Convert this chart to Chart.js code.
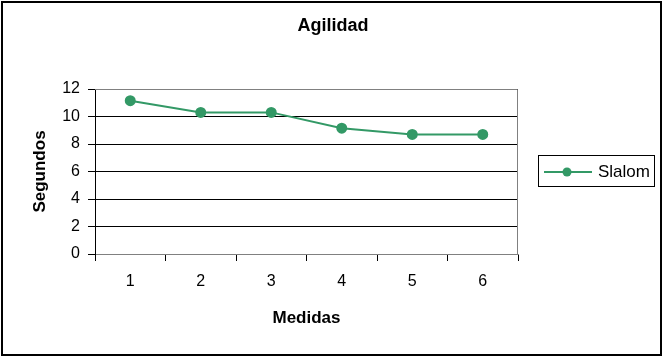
<!DOCTYPE html>
<html>
<head>
<meta charset="utf-8">
<script src="https://cdn.jsdelivr.net/npm/chart.js@4.4.1/dist/chart.umd.min.js"></script>
<style>
  html, body { margin: 0; padding: 0; background: #fff; }
  #wrap { width: 666px; height: 360px; }
</style>
</head>
<body>
<div id="wrap"><canvas id="chart" width="666" height="360"></canvas></div>
<script>
// data
const medidas = ['1', '2', '3', '4', '5', '6'];
const slalom = [11.15, 10.3, 10.3, 9.15, 8.7, 8.7];
const yTicks = [0, 2, 4, 6, 8, 10, 12];
const chartTitle = 'Agilidad';

const FONT = "'Liberation Sans', Arial, sans-serif";
const GREEN = '#339966';

// plot frame (grey top/right), title centred on the whole canvas, outer border, legend box
const framePlugin = {
    id: 'frame',
    beforeDatasetsDraw(chart) {
        const { ctx, chartArea: a } = chart;
        const t = Math.round(a.top) + 0.5;
        const r = Math.round(a.right) - 0.5;
        ctx.save();
        ctx.strokeStyle = '#808080';
        ctx.lineWidth = 1;
        ctx.beginPath();
        ctx.moveTo(a.left, t);
        ctx.lineTo(r, t);
        ctx.lineTo(r, a.bottom);
        ctx.stroke();
        ctx.restore();
    },
    afterDraw(chart) {
        const ctx = chart.ctx;
        ctx.save();
        // title
        ctx.fillStyle = '#000';
        ctx.font = 'bold 18px ' + FONT;
        ctx.textAlign = 'center';
        ctx.textBaseline = 'middle';
        ctx.fillText(chartTitle, 333, 26);

        // outer border
        ctx.strokeStyle = '#000';
        ctx.lineWidth = 2;
        ctx.strokeRect(2, 2, 659, 353);

        // legend
        const ds = chart.data.datasets[0];
        ctx.lineWidth = 1;
        ctx.strokeRect(538.5, 155.5, 116, 31);
        const ly = 172;
        ctx.strokeStyle = ds.borderColor;
        ctx.lineWidth = 2;
        ctx.beginPath();
        ctx.moveTo(544, ly);
        ctx.lineTo(592, ly);
        ctx.stroke();
        ctx.fillStyle = ds.pointBackgroundColor;
        ctx.beginPath();
        ctx.arc(567, ly, 4.5, 0, Math.PI * 2);
        ctx.fill();
        ctx.fillStyle = '#000';
        ctx.font = '17px ' + FONT;
        ctx.textAlign = 'left';
        ctx.fillText(ds.label, 598, ly);
        ctx.restore();
    }
};

new Chart(document.getElementById('chart'), {
    type: 'line',
    data: {
        labels: medidas,
        datasets: [{
            label: 'Slalom',
            data: slalom,
            borderColor: GREEN,
            backgroundColor: GREEN,
            pointBackgroundColor: GREEN,
            pointBorderColor: GREEN,
            borderWidth: 2,
            pointRadius: 4.5,
            tension: 0
        }]
    },
    options: {
        responsive: false,
        animation: false,
        layout: { padding: { left: 26, right: 148, top: 89, bottom: 27 } },
        plugins: {
            legend: { display: false },
            tooltip: { enabled: false },
            title: { display: false }
        },
        scales: {
            x: {
                offset: true,
                afterFit(scale) { scale.height = 79; },
                grid: {
                    offset: true,
                    drawOnChartArea: false,
                    drawTicks: true,
                    tickLength: 7,
                    tickColor: '#000'
                },
                border: { color: '#808080' },
                ticks: {
                    color: '#000',
                    padding: 11,
                    font: { family: FONT, size: 16 }
                },
                title: {
                    display: true,
                    text: 'Medidas',
                    color: '#000',
                    font: { family: FONT, size: 17, weight: 'bold' }
                }
            },
            y: {
                min: 0,
                max: 12,
                afterFit(scale) { scale.width = 69; },
                afterBuildTicks(scale) {
                    scale.ticks = yTicks.map(v => ({ value: v }));
                },
                grid: {
                    color: '#000',
                    tickColor: '#000',
                    tickLength: 7,
                    lineWidth: 1
                },
                border: { color: '#000' },
                ticks: {
                    color: '#000',
                    padding: 8,
                    font: { family: FONT, size: 16 }
                },
                title: {
                    display: true,
                    text: 'Segundos',
                    color: '#000',
                    font: { family: FONT, size: 17, weight: 'bold' }
                }
            }
        }
    },
    plugins: [framePlugin]
});
</script>
</body>
</html>
